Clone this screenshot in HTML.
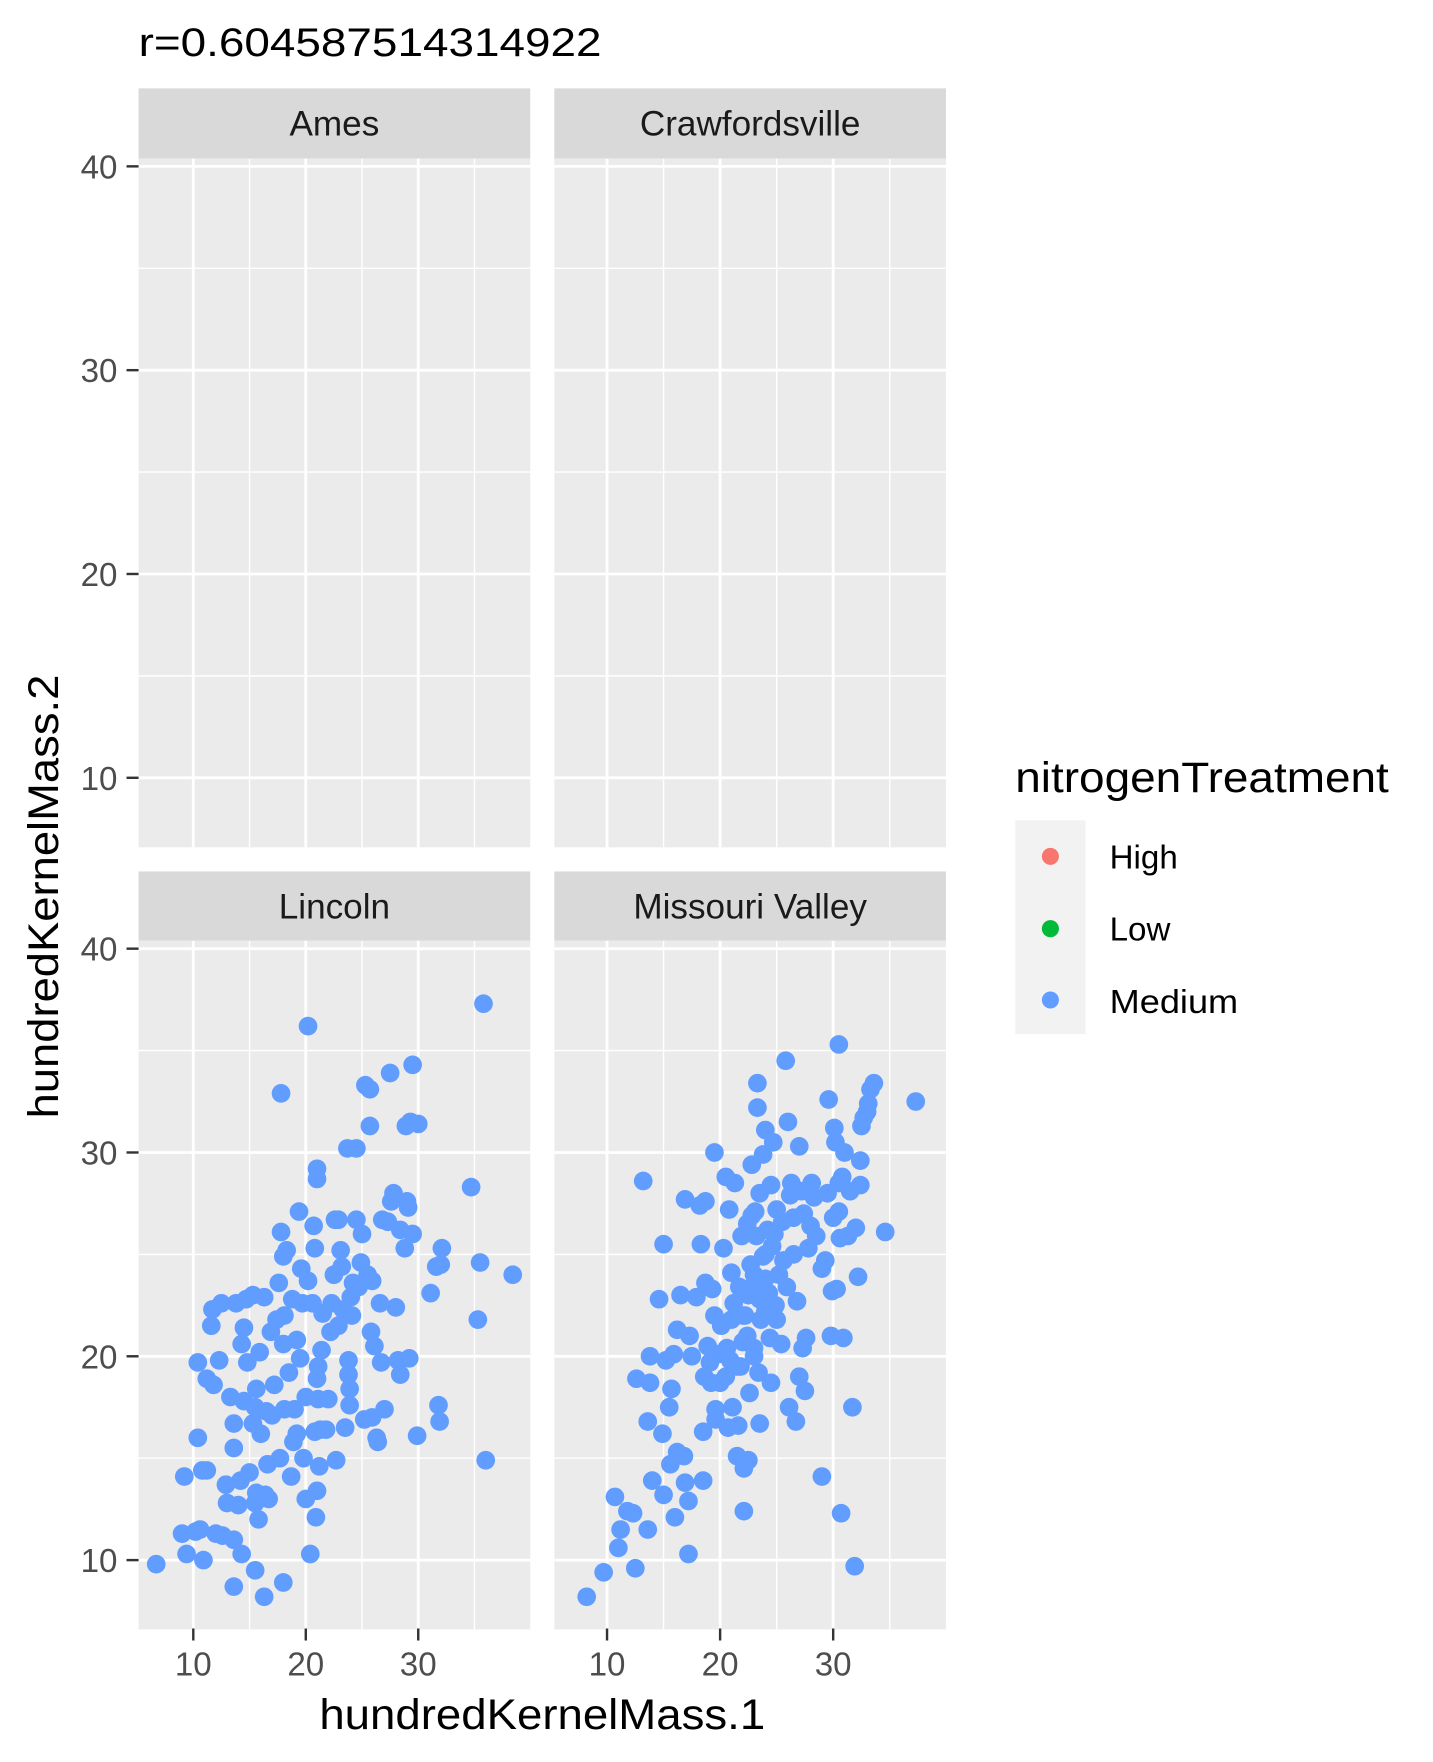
<!DOCTYPE html>
<html><head><meta charset="utf-8"><style>
html,body{margin:0;padding:0;background:#fff;}
svg{display:block;font-family:"Liberation Sans",sans-serif;}
</style></head><body>
<svg id="chart" width="1433" height="1762" viewBox="0 0 1427 1755" preserveAspectRatio="none" xmlns="http://www.w3.org/2000/svg">
<text x="138" y="56" font-size="40" fill="#000" textLength="461" lengthAdjust="spacingAndGlyphs">r=0.604587514314922</text>
<g id="panels"></g>
<text x="540" y="1722" font-size="42" text-anchor="middle" fill="#000" textLength="444" lengthAdjust="spacingAndGlyphs">hundredKernelMass.1</text>
<text transform="translate(58,893) rotate(-90)" font-size="42" text-anchor="middle" fill="#000" textLength="442" lengthAdjust="spacingAndGlyphs">hundredKernelMass.2</text>
<g>
<text x="1011" y="789" font-size="42" fill="#000" textLength="372" lengthAdjust="spacingAndGlyphs">nitrogenTreatment</text>
<rect x="1011" y="817" width="70" height="213" fill="#f2f2f2"/>
<circle cx="1046" cy="853" r="8.5" fill="#F8766D"/>
<circle cx="1046" cy="925" r="8.5" fill="#00BA38"/>
<circle cx="1046" cy="996" r="8.5" fill="#619CFF"/>
<text x="1105" y="865" font-size="33" fill="#000">High</text>
<text x="1105" y="937" font-size="33" fill="#000">Low</text>
<text x="1105" y="1009" font-size="33" fill="#000" textLength="128" lengthAdjust="spacingAndGlyphs">Medium</text>
</g>
</svg>
<script>
const facetNames = ["Ames","Crawfordsville","Lincoln","Missouri Valley"];
const xTicks = [10,20,30];
const yTicks = [10,20,30,40];
const xMinor = [15,25,35];
const yMinor = [15,25,35];
const lincolnX = [6.7,9.2,9.0,9.4,10.4,10.4,10.2,10.6,10.8,10.9,11.2,11.2,11.6,11.8,11.7,12.0,12.3,12.5,12.6,12.9,13.0,13.3,13.6,13.6,13.6,13.6,13.8,14.0,14.2,14.3,14.3,14.5,14.5,14.7,14.8,15.0,15.3,15.3,15.5,15.5,15.5,15.6,15.6,15.8,15.9,16.0,16.3,16.3,16.5,16.4,16.6,16.7,16.9,17.0,17.2,17.4,17.6,17.7,17.8,17.8,18.0,18.0,18.1,18.1,18.0,18.3,18.5,18.7,18.8,18.9,19.0,19.2,19.2,19.5,19.4,19.6,19.7,19.8,20.0,20.0,20.2,20.2,20.4,20.6,20.7,20.8,20.8,20.9,21.0,21.0,21.0,21.0,21.1,21.1,21.2,21.3,21.4,21.5,21.8,22.0,22.2,22.3,22.5,22.6,22.7,22.9,22.9,23.1,23.2,23.3,23.5,23.7,23.8,23.8,23.9,23.9,24.0,24.1,24.2,24.5,24.5,24.7,24.9,25.0,25.2,25.3,25.5,25.7,25.7,25.8,25.9,25.9,26.1,26.3,26.4,26.6,26.8,27.0,26.7,27.3,27.5,27.6,27.8,28.0,28.2,28.4,28.4,28.8,28.9,29.0,29.1,29.2,29.3,29.5,29.5,29.9,30.0,31.1,31.6,31.8,31.9,32.0,32.1,34.7,35.3,35.5,35.8,36.0,38.4];
const lincolnY = [9.8,14.1,11.3,10.3,19.7,16.0,11.4,11.5,14.4,10.0,18.9,14.4,21.5,18.6,22.3,11.3,19.8,22.6,11.2,13.7,12.8,18.0,15.5,11.0,8.7,16.7,22.6,12.7,13.9,20.6,10.3,21.4,17.8,22.8,19.7,14.3,16.7,23.0,12.8,9.5,17.5,18.4,13.3,12.0,20.2,16.2,8.2,22.9,17.3,13.2,14.7,13.0,21.2,17.1,18.6,21.8,23.6,15.0,32.9,26.1,24.9,20.6,17.4,22.0,8.9,25.2,19.2,14.1,22.8,15.8,17.4,16.2,20.8,19.9,27.1,24.3,22.6,15.0,13.0,18.0,36.2,23.7,10.3,22.6,26.4,25.3,16.3,12.1,13.4,29.2,28.7,18.9,19.5,17.9,14.6,16.4,20.3,22.1,16.4,17.9,21.2,22.6,24.0,26.7,14.9,21.5,26.7,25.2,24.4,22.3,16.5,30.2,19.8,19.1,18.4,17.6,22.9,22.0,23.6,30.2,26.7,23.4,24.6,26.0,16.9,33.3,24.0,33.1,31.3,21.2,17.0,23.7,20.5,16.0,15.8,22.6,26.7,17.4,19.7,26.6,33.9,27.6,28.0,22.4,19.8,26.2,19.1,25.3,31.3,27.6,27.3,19.9,31.5,34.3,26.0,16.1,31.4,23.1,24.4,17.6,16.8,24.5,25.3,28.3,21.8,24.6,37.3,14.9,24.0];
const missouriX = [8.2,9.7,10.7,11.0,11.2,11.8,12.3,12.5,12.6,13.2,13.6,13.6,13.8,13.8,14.0,14.6,14.9,15.0,15.0,15.2,15.5,15.6,15.7,15.9,16.0,16.2,16.2,16.5,16.8,16.9,16.9,17.2,17.2,17.3,17.5,17.9,18.2,18.3,18.5,18.5,18.6,18.7,18.7,18.9,19.1,19.2,19.3,19.5,19.5,19.6,19.6,19.8,20.0,20.1,20.3,20.5,20.6,20.7,20.8,20.9,21.0,21.1,21.2,21.3,21.5,21.5,21.6,21.7,21.9,22.0,22.1,22.1,22.2,22.4,22.4,22.5,22.6,22.7,22.8,23.0,23.0,23.1,23.2,23.3,23.3,23.4,23.5,23.5,23.6,23.8,23.8,24.0,24.0,24.2,24.3,24.4,24.5,24.5,24.6,24.7,24.9,25.0,25.2,25.4,25.5,25.8,25.9,26.0,26.1,26.2,26.3,26.5,26.7,26.8,27.0,27.0,27.2,27.3,27.4,27.5,27.6,27.8,28.0,28.1,28.3,28.5,29.0,29.0,29.3,29.5,29.6,29.8,29.9,30.0,30.1,30.2,30.3,30.5,30.5,30.5,30.6,30.7,30.8,30.9,31.0,31.3,31.5,31.7,31.9,32.0,32.2,32.4,32.4,32.5,32.7,33.0,33.1,33.3,33.6,34.6,37.3,22,23,24,22.5,23.5,21.8,24.8,25.6,20.5,21,22.8,26.5,24,23,25];
const missouriY = [8.2,9.4,13.1,10.6,11.5,12.4,12.3,9.6,18.9,28.6,11.5,16.8,20.0,18.7,13.9,22.8,16.2,25.5,13.2,19.8,17.5,14.7,18.4,20.1,12.1,21.3,15.3,23.0,15.1,13.8,27.7,10.3,12.9,21.0,20.0,22.9,27.4,25.5,16.3,13.9,19.0,27.6,23.6,20.5,19.7,18.7,23.3,22.0,30.0,16.9,17.4,20.1,18.7,21.5,25.3,28.8,20.4,16.5,27.2,19.8,24.1,17.5,22.6,28.5,15.1,19.5,16.6,23.4,25.9,20.7,14.5,12.4,22.0,21.0,26.5,14.9,18.2,24.5,29.4,20.4,23.5,27.1,25.9,32.2,33.4,19.2,16.7,28.0,21.8,24.9,29.9,31.1,22.2,26.2,23.1,20.9,18.7,28.4,25.4,30.5,22.5,27.2,24.0,20.6,26.6,34.5,23.4,31.5,17.5,27.9,28.5,25.0,16.8,22.7,19.0,30.3,28.1,20.4,27.0,18.3,20.9,25.3,26.4,28.5,27.8,25.9,24.3,14.1,24.7,28.0,32.6,21.0,23.2,26.8,31.2,30.5,23.3,27.1,35.3,28.5,25.8,12.3,28.8,20.9,30.0,25.9,28.1,17.5,9.7,26.3,23.9,28.4,29.6,31.3,31.7,32.0,32.4,33.1,33.4,26.1,32.5,22,24,25,23,22.8,19.5,26,24.7,19,21.8,26.9,26.8,23.8,20,21.8];

const NS = "http://www.w3.org/2000/svg";
const g = document.getElementById('panels');
function mk(tag, attrs, parent){ const e=document.createElementNS(NS,tag); for(const k in attrs) e.setAttribute(k,attrs[k]); (parent||g).appendChild(e); return e; }
const panelX0 = [138,552], panelW = 390;
const rowStrip = [88,868], rowPanelTop=[158,937], panelH = 686;
const xScales = [v=>192.5+(v-10)*11.2, v=>604.5+(v-10)*11.26];
const yScales = [v=>774.7-(v-10)*20.3, v=>1553.9-(v-10)*20.3];
const facetData = [null,null,[lincolnX,lincolnY],[missouriX,missouriY]];

for(let i=0;i<4;i++){
  const col=i%2,row=Math.floor(i/2);
  const x0=panelX0[col], st=rowStrip[row], pt=rowPanelTop[row];
  const X=xScales[col], Y=yScales[row];
  const strip=mk('rect',{x:x0,y:st,width:panelW,height:pt-st,fill:'#d9d9d9'});
  
  
  const stxt=mk('text',{x:x0+panelW/2,y:st+47,'font-size':35,'text-anchor':'middle',fill:'#1a1a1a'});
  stxt.textContent=facetNames[i];
  
  
  const bg=mk('rect',{x:x0,y:pt,width:panelW,height:panelH,fill:'#ebebeb'});
  
  
  xMinor.forEach(v=>{const l=mk('line',{x1:X(v),x2:X(v),y1:pt,y2:pt+panelH,stroke:'#fff','stroke-width':1.4});
    
    });
  yMinor.forEach(v=>{const l=mk('line',{x1:x0,x2:x0+panelW,y1:Y(v),y2:Y(v),stroke:'#fff','stroke-width':1.4});
    
    });
  xTicks.forEach(v=>{const l=mk('line',{x1:X(v),x2:X(v),y1:pt,y2:pt+panelH,stroke:'#fff','stroke-width':2.8});
    
    });
  yTicks.forEach(v=>{const l=mk('line',{x1:x0,x2:x0+panelW,y1:Y(v),y2:Y(v),stroke:'#fff','stroke-width':2.8});
    
    });
  if(col===0){
    yTicks.forEach(v=>{
      const t=mk('line',{x1:126,x2:138,y1:Y(v),y2:Y(v),stroke:'#333','stroke-width':2.4});
      
      
      const lb=mk('text',{x:117,y:Y(v)+12,'font-size':33,'text-anchor':'end',fill:'#4d4d4d'});
      lb.textContent=v;
      
      
    });
  }
  if(row===1){
    xTicks.forEach(v=>{
      const t=mk('line',{x1:X(v),x2:X(v),y1:1622,y2:1634,stroke:'#333','stroke-width':2.4});
      
      
      const lb=mk('text',{x:X(v),y:1669,'font-size':33,'text-anchor':'middle',fill:'#4d4d4d'});
      lb.textContent=v;
      
      
    });
  }
  const d=facetData[i];
  if(d){
    d[0].forEach((xv,k)=>{
      const c=mk('circle',{cx:X(xv),cy:Y(d[1][k]),r:9.3,fill:'#619CFF'});
      
      
    });
  }
}
</script>
</body></html>
